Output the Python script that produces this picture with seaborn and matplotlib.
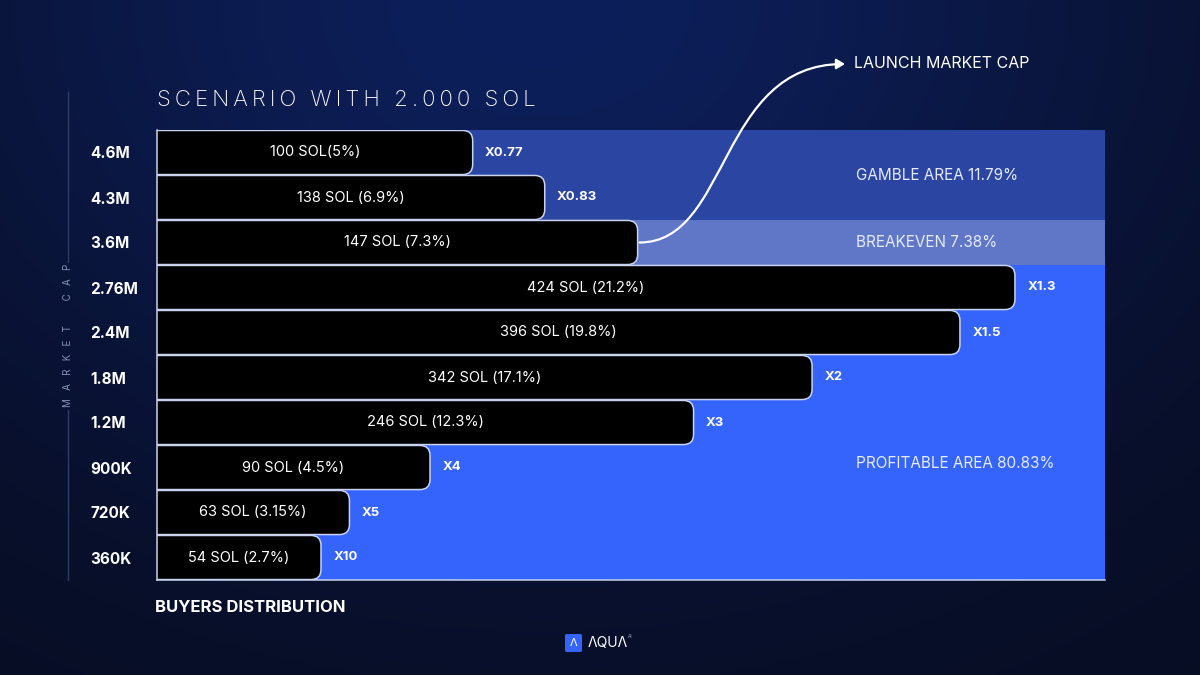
import numpy as np
import matplotlib.pyplot as plt
import matplotlib.colors as mcolors
import seaborn as sns
from matplotlib.patches import FancyBboxPatch, FancyArrowPatch
from matplotlib.path import Path

market_caps = ["4.6M", "4.3M", "3.6M", "2.76M", "2.4M", "1.8M", "1.2M", "900K", "720K", "360K"]
sol_labels = ["100 SOL(5%)", "138 SOL (6.9%)", "147 SOL (7.3%)", "424 SOL (21.2%)",
              "396 SOL (19.8%)", "342 SOL (17.1%)", "246 SOL (12.3%)", "90 SOL (4.5%)",
              "63 SOL (3.15%)", "54 SOL (2.7%)"]
multipliers = ["X0.77", "X0.83", "", "X1.3", "X1.5", "X2", "X3", "X4", "X5", "X10"]
# bar length as drawn in the graphic, % of the panel width
bar_len = [33.3, 40.9, 50.7, 90.5, 84.7, 69.1, 56.6, 28.8, 20.3, 17.3]
zone_names = ["GAMBLE AREA 11.79%", "BREAKEVEN 7.38%", "PROFITABLE AREA 80.83%"]
zone_first = [0, 2, 3]
zone_last = [1, 2, 9]
launch_row = 2

zone_colors = ["#2b45a3", "#5f77c6", "#3464fb"]

sns.set_style("dark")
plt.rcParams["font.family"] = ["Inter", "DejaVu Sans"]

fig = plt.figure(figsize=(12, 6.75), dpi=100)

# background gradient
bg = fig.add_axes([0, 0, 1, 1], zorder=-10)
yy, xx = np.mgrid[0:1:675j, 0:1:1200j]
w = np.exp(-((xx - 0.45) / 0.55) ** 2 - (yy / 0.75) ** 2)
w = np.clip(w, 0, 1)
dark = np.array(mcolors.to_rgb("#070c20"))
light = np.array(mcolors.to_rgb("#0d1f5a"))
img = dark[None, None, :] * (1 - w[..., None]) + light[None, None, :] * w[..., None]
bg.imshow(img, aspect="auto", extent=[0, 1, 0, 1], origin="upper")
bg.set_axis_off()

ax = fig.add_axes([157 / 1200, 1 - 580 / 675, 948 / 1200, 450 / 675])
ax.set_facecolor("none")

sns.barplot(x=bar_len, y=market_caps, orient="h", color="black", width=0.98,
            ax=ax, zorder=2)

ax.set_xlim(0, 100)
ax.set_ylim(len(market_caps) - 0.5, -0.5)

# rounded right ends
px_x = 948 / 100.0
px_y = 450 / len(market_caps)
rad = 10 / px_x
aspect = (10 / px_y) / rad
for p in list(ax.containers[0]):
    x0, y0, wd, ht = p.get_x(), p.get_y(), p.get_width(), p.get_height()
    p.set_visible(False)
    box = FancyBboxPatch((x0 - 3, y0), wd + 3, ht,
                         boxstyle=f"round,pad=0,rounding_size={rad}",
                         mutation_aspect=aspect, fc="black", ec="#c9d2ee",
                         lw=1.1, zorder=3)
    ax.add_patch(box)

for name, a, b, c in zip(zone_names, zone_first, zone_last, zone_colors):
    ax.axhspan(a - 0.5, b + 0.5, color=c, zorder=0.5, lw=0)

for i, (ln, lab, mul) in enumerate(zip(bar_len, sol_labels, multipliers)):
    ax.text(ln / 2, i, lab, color="white", fontsize=10.5, ha="center", va="center", zorder=5)
    if mul:
        ax.text(ln + 1.3, i, mul, color="white", fontsize=9.5, fontweight="bold",
                ha="left", va="center", zorder=5)

zone_y = [0.5, 2, 6.9]
for name, yv in zip(zone_names, zone_y):
    ax.text(73.7, yv, name, color="#e6ebff", fontsize=11, ha="left", va="center", zorder=5)

ax.set_xticks([])
ax.set_yticks(range(len(market_caps)))
ax.set_yticklabels(market_caps)
ax.tick_params(axis="y", length=0, pad=48, labelcolor="white", labelsize=11)
for t in ax.get_yticklabels():
    t.set_fontweight("bold")
    t.set_horizontalalignment("left")
ax.set_xlabel("")
ax.set_ylabel("")
for s in ["top", "right"]:
    ax.spines[s].set_visible(False)
for s in ["left", "bottom"]:
    ax.spines[s].set_color("#c9d2ee")
    ax.spines[s].set_linewidth(1.1)
    ax.spines[s].set_zorder(6)

# title and labels
fig.text(157 / 1200, 1 - 100 / 675, "\u2009".join("SCENARIO WITH 2.000 SOL"),
         color="white", fontsize=16, fontweight="light", ha="left", va="center")
fig.text(155 / 1200, 1 - 607 / 675, "BUYERS DISTRIBUTION", color="white",
         fontsize=12, fontweight="bold", ha="left", va="center")
fig.text(68 / 1200, 1 - 335 / 675, "   ".join("MARKET CAP").replace("      ", "        "),
         color="#8693b8", fontsize=7, rotation=90, ha="center", va="center")
fig.add_artist(plt.Line2D([68 / 1200, 68 / 1200], [1 - 92 / 675, 1 - 262 / 675],
                          color="#2e3c66", lw=1))
fig.add_artist(plt.Line2D([68 / 1200, 68 / 1200], [1 - 410 / 675, 1 - 580 / 675],
                          color="#2e3c66", lw=1))

# launch market cap arrow
fig.canvas.draw()
inv = fig.transFigure.inverted()
sx, sy = inv.transform(ax.transData.transform((bar_len[launch_row] + 0.2, launch_row)))
ex, ey = 845 / 1200, 1 - 64 / 675
verts = [(sx, sy), (730 / 1200, sy), (718 / 1200, ey), (ex, ey)]
arrow = FancyArrowPatch(path=Path(verts, [Path.MOVETO, Path.CURVE4, Path.CURVE4, Path.CURVE4]),
                        arrowstyle="-|>,head_length=5,head_width=3", color="white",
                        lw=1.6, transform=fig.transFigure)
fig.add_artist(arrow)
fig.text(854 / 1200, ey, "LAUNCH MARKET CAP", color="white", fontsize=11.5,
         ha="left", va="center")

# logo
logo = FancyBboxPatch((565 / 1200, 1 - 652 / 675), 17 / 1200, 18 / 675,
                      boxstyle="round,pad=0,rounding_size=0.002", fc="#3464fb", ec="none",
                      transform=fig.transFigure)
fig.add_artist(logo)
fig.text(573.5 / 1200, 1 - 643 / 675, "\u039b", color="white", fontsize=8,
         ha="center", va="center")
fig.text(588 / 1200, 1 - 643 / 675, "\u039bQU\u039b", color="white", fontsize=10,
         ha="left", va="center")
fig.text(628 / 1200, 1 - 637 / 675, "AI", color="#9aa6c8", fontsize=3.5,
         ha="left", va="center")

fig.savefig("out.png", dpi=100)
